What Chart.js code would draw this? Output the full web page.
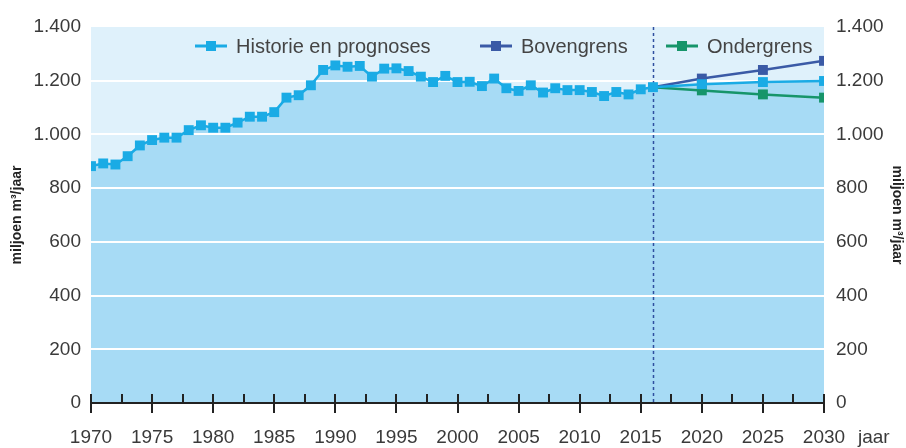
<!DOCTYPE html>
<html>
<head>
<meta charset="utf-8">
<script src="https://cdn.jsdelivr.net/npm/chart.js@4/dist/chart.umd.min.js"></script>
<style>
  html, body { margin: 0; padding: 0; background: #fff; }
</style>
</head>
<body>
<canvas id="waterChart" width="906" height="448"></canvas>
<script>
'use strict';

// Historie (jaarlijks)
const histYears = [
  1970, 1971, 1972, 1973, 1974, 1975, 1976, 1977, 1978, 1979,
  1980, 1981, 1982, 1983, 1984, 1985, 1986, 1987, 1988, 1989,
  1990, 1991, 1992, 1993, 1994, 1995, 1996, 1997, 1998, 1999,
  2000, 2001, 2002, 2003, 2004, 2005, 2006, 2007, 2008, 2009,
  2010, 2011, 2012, 2013, 2014, 2015, 2016
];
const histValues = [
  882, 892, 888, 919, 959, 979, 988, 988, 1016, 1034,
  1025, 1025, 1044, 1066, 1066, 1083, 1137, 1146, 1183, 1240,
  1257, 1252, 1255, 1215, 1245, 1246, 1236, 1215, 1195, 1218,
  1195, 1196, 1180, 1208, 1172, 1162, 1183, 1156, 1172, 1165,
  1165, 1158, 1143, 1158, 1149, 1168, 1176
];

// Prognoses (vanaf laatste historische jaar)
const progYears = [2016, 2020, 2025, 2030];
const progHistorie = [1176, 1187, 1195, 1199];
const progBoven = [1176, 1208, 1240, 1274];
const progOnder = [1176, 1164, 1149, 1137];

const seriesLabels = ['Historie en prognoses', 'Bovengrens', 'Ondergrens'];
const seriesColors = ['#1aabe5', '#3a5aa6', '#16956a'];
const splitYear = 2016;
const yAxisTitle = 'miljoen m\u00b3/jaar';
const xAxisTitle = 'jaar';

const FONT = "'Liberation Sans', Arial, sans-serif";
const TEXT = '#3a3a3a';

function nlNumber(v) {
  if (v >= 1000) return Math.floor(v / 1000) + '.' + String(v % 1000).padStart(3, '0');
  return String(v);
}

const toPoints = (xs, ys) => xs.map((x, i) => ({ x: x, y: ys[i] }));
const historiePoints = toPoints(histYears, histValues).concat(toPoints(progYears.slice(1), progHistorie.slice(1)));

const chartDecor = {
  id: 'chartDecor',
  beforeDraw(chart) {
    const { ctx, chartArea: a } = chart;
    ctx.save();
    ctx.fillStyle = '#dff1fb';
    ctx.fillRect(a.left, a.top, a.right - a.left, a.bottom - a.top);
    ctx.restore();
  },
  afterDatasetDraw(chart, args) {
    if (args.index !== 3) return; // after the area fill
    const { ctx, chartArea: a, scales } = chart;
    ctx.save();
    ctx.strokeStyle = '#ffffff';
    ctx.lineWidth = 2;
    scales.y.ticks.forEach(t => {
      if (t.value <= 0 || t.value >= 1400) return;
      const y = Math.round(scales.y.getPixelForValue(t.value));
      ctx.beginPath();
      ctx.moveTo(a.left, y);
      ctx.lineTo(a.right, y);
      ctx.stroke();
    });
    // dashed split line
    const sx = Math.round(scales.x.getPixelForValue(splitYear)) + 0.5;
    ctx.strokeStyle = '#2f4fa0';
    ctx.lineWidth = 1.5;
    ctx.setLineDash([3, 3]);
    ctx.beginPath();
    ctx.moveTo(sx, a.top);
    ctx.lineTo(sx, a.bottom);
    ctx.stroke();
    ctx.restore();
  },
  afterDraw(chart) {
    const { ctx, chartArea: a, scales } = chart;
    const x = scales.x;
    ctx.save();
    // x axis line with ticks
    ctx.strokeStyle = '#222';
    ctx.lineWidth = 2;
    ctx.beginPath();
    ctx.moveTo(a.left, a.bottom);
    ctx.lineTo(a.right, a.bottom);
    for (let yr = x.min; yr <= x.max + 0.01; yr += 2.5) {
      const px = Math.round(x.getPixelForValue(yr));
      const major = yr % 5 === 0;
      ctx.moveTo(px, a.bottom - 9);
      ctx.lineTo(px, major ? a.bottom + 10 : a.bottom);
    }
    ctx.stroke();

    // axis unit "jaar"
    ctx.fillStyle = TEXT;
    ctx.font = '19px ' + FONT;
    ctx.textBaseline = 'middle';
    ctx.textAlign = 'left';
    ctx.fillText(xAxisTitle, 858, 438);

    // legend inside plot area
    const legendX = [195, 480, 666];
    const ly = 46;
    ctx.font = '20px ' + FONT;
    seriesLabels.forEach((label, i) => {
      const x0 = legendX[i];
      ctx.strokeStyle = seriesColors[i];
      ctx.lineWidth = 3;
      ctx.beginPath();
      ctx.moveTo(x0, ly);
      ctx.lineTo(x0 + 32, ly);
      ctx.stroke();
      ctx.fillStyle = seriesColors[i];
      ctx.fillRect(x0 + 11, ly - 5, 10, 10);
      ctx.fillStyle = '#444';
      ctx.fillText(label, x0 + 41, ly + 1);
    });
    ctx.restore();
  }
};

const lineStyle = (color) => ({
  borderColor: color,
  backgroundColor: color,
  borderWidth: 2.5,
  pointStyle: 'rect',
  pointBackgroundColor: color,
  pointBorderWidth: 0,
  tension: 0,
  fill: false
});

new Chart(document.getElementById('waterChart'), {
  type: 'line',
  data: {
    datasets: [
      Object.assign({ label: seriesLabels[0], data: historiePoints, pointRadius: 7 }, lineStyle(seriesColors[0])),
      Object.assign({ label: seriesLabels[1], data: toPoints(progYears, progBoven), pointRadius: [0, 7, 7, 7] }, lineStyle(seriesColors[1])),
      Object.assign({ label: seriesLabels[2], data: toPoints(progYears, progOnder), pointRadius: [0, 7, 7, 7] }, lineStyle(seriesColors[2])),
      {
        label: 'vlak',
        data: historiePoints,
        borderWidth: 0,
        pointRadius: 0,
        backgroundColor: '#a7dbf5',
        fill: 'origin',
        tension: 0,
        order: 10
      }
    ]
  },
  options: {
    responsive: false,
    devicePixelRatio: 1,
    animation: false,
    events: [],
    layout: { padding: { top: 27, left: 0, right: 0, bottom: 0 } },
    scales: {
      x: {
        type: 'linear',
        min: 1970,
        max: 2030,
        grid: { display: false },
        border: { display: false },
        ticks: {
          stepSize: 5,
          padding: 15,
          color: TEXT,
          font: { family: FONT, size: 19 },
          maxRotation: 0,
          callback: v => String(v)
        },
        afterFit: s => { s.height = 45; }
      },
      y: {
        position: 'left',
        min: 0,
        max: 1400,
        grid: { display: false, drawTicks: false },
        border: { display: false },
        ticks: {
          stepSize: 200,
          padding: 10,
          color: TEXT,
          font: { family: FONT, size: 19 },
          callback: v => nlNumber(v)
        },
        title: {
          display: true,
          text: yAxisTitle,
          color: '#222',
          font: { family: FONT, size: 14, weight: 'bold' },
          padding: { top: 9, bottom: 0 }
        },
        afterFit: s => { s.width = 91; }
      },
      y2: {
        position: 'right',
        min: 0,
        max: 1400,
        grid: { display: false, drawTicks: false },
        border: { display: false },
        ticks: {
          stepSize: 200,
          padding: 12,
          color: TEXT,
          font: { family: FONT, size: 19 },
          callback: v => nlNumber(v)
        },
        title: {
          display: true,
          text: yAxisTitle,
          color: '#222',
          font: { family: FONT, size: 14, weight: 'bold' },
          padding: { top: 1, bottom: 0 }
        },
        afterFit: s => { s.width = 82; }
      }
    },
    plugins: {
      legend: { display: false },
      tooltip: { enabled: false }
    }
  },
  plugins: [chartDecor]
});
</script>
</body>
</html>
